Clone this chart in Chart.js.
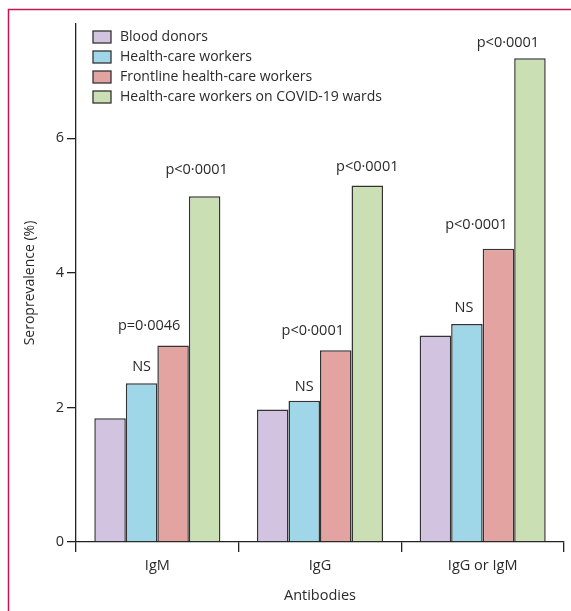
<!DOCTYPE html>
<html><head><meta charset="utf-8">
<script src="https://cdn.jsdelivr.net/npm/chart.js@4/dist/chart.umd.min.js"></script>
<style>html,body{margin:0;padding:0;background:#fff}#wrap{width:571px;height:611px;position:relative}canvas{display:block}</style>
</head><body><div id="wrap"><canvas id="c" width="571" height="611"></canvas></div>
<script>
// ---- data ----
const categories = ['IgM', 'IgG', 'IgG or IgM'];
const seriesNames = ['Blood donors', 'Health-care workers', 'Frontline health-care workers', 'Health-care workers on COVID-19 wards'];
const bloodDonors = [1.84, 1.97, 3.07];
const healthCareWorkers = [2.36, 2.10, 3.24];
const frontlineWorkers = [2.92, 2.85, 4.36];
const covidWardWorkers = [5.14, 5.30, 7.19];
const pBlood = ['', '', ''];
const pHealthCare = ['NS', 'NS', 'NS'];
const pFrontline = ['p=0·0046', 'p<0·0001', 'p<0·0001'];
const pCovid = ['p<0·0001', 'p<0·0001', 'p<0·0001'];
const yTicks = [0, 2, 4, 6];

// ---- styles ----
const FONT = "'Open Sans', sans-serif";
const TXT = '#2a2a2a';
const colors = ['#d2c3e0', '#9fd6e8', '#e3a3a1', '#cae0b4'];
const seriesValues = [bloodDonors, healthCareWorkers, frontlineWorkers, covidWardWorkers];
const seriesLabels = [pBlood, pHealthCare, pFrontline, pCovid];
// label placement tweaks (layout only): [dx, gap above bar]
const labelPlace = [
  [[0,0],[0,0],[0,0]],
  [[0,12],[0,10],[-3,12]],
  [[-24,16],[-23,15],[-22,20]],
  [[-8,22],[0,14],[-22,11]]
];

const framePlugin = {
  id: 'frame',
  beforeDraw(chart) {
    const ctx = chart.ctx;
    ctx.save();
    ctx.strokeStyle = '#c8144f';
    ctx.lineWidth = 1.5;
    ctx.beginPath();
    ctx.moveTo(8.5, 611);
    ctx.lineTo(8.5, 9.5);
    ctx.lineTo(571, 9.5);
    ctx.stroke();
    ctx.restore();
  }
};

const legendPlugin = {
  id: 'customLegend',
  afterDraw(chart) {
    const ctx = chart.ctx;
    ctx.save();
    ctx.font = '14px ' + FONT;
    ctx.textBaseline = 'middle';
    chart.data.datasets.forEach((ds, i) => {
      const cy = 37 + i * 20;
      ctx.fillStyle = ds.backgroundColor;
      ctx.fillRect(93, cy - 6, 18, 12);
      ctx.strokeStyle = '#333';
      ctx.lineWidth = 1.3;
      ctx.strokeRect(93, cy - 6, 18, 12);
      ctx.fillStyle = TXT;
      ctx.fillText(ds.label, 120, cy);
    });
    ctx.restore();
  }
};

const pLabelPlugin = {
  id: 'pLabels',
  afterDatasetsDraw(chart) {
    const ctx = chart.ctx;
    ctx.save();
    ctx.font = '14.5px ' + FONT;
    ctx.fillStyle = TXT;
    ctx.textAlign = 'center';
    ctx.textBaseline = 'alphabetic';
    chart.data.datasets.forEach((ds, i) => {
      const meta = chart.getDatasetMeta(i);
      meta.data.forEach((el, j) => {
        const t = seriesLabels[i][j];
        if (!t) return;
        const [dx, gap] = labelPlace[i][j];
        ctx.fillText(t, el.x + dx, el.y - gap);
      });
    });
    ctx.restore();
  }
};

new Chart(document.getElementById('c'), {
  type: 'bar',
  data: {
    labels: categories,
    datasets: seriesNames.map((n, i) => ({
      label: n,
      data: seriesValues[i],
      backgroundColor: colors[i],
      borderColor: '#333',
      borderWidth: 1.5,
      categoryPercentage: 0.775,
      barPercentage: 1.0
    }))
  },
  options: {
    responsive: false,
    animation: false,
    devicePixelRatio: 1,
    layout: { padding: { left: 8, right: 7, top: 24, bottom: 0 } },
    plugins: { legend: { display: false }, tooltip: { enabled: false } },
    scales: {
      x: {
        grid: { display: true, drawOnChartArea: false, drawTicks: true, tickLength: 10, color: '#222', lineWidth: 1.3, offset: true },
        border: { display: true, color: '#222', width: 1.3 },
        ticks: { color: TXT, font: { family: FONT, size: 14.5 }, padding: 5 },
        title: { display: true, text: 'Antibodies', color: TXT, font: { family: FONT, size: 14.5 }, padding: { top: 0, bottom: 6 } },
        afterFit(s) { s.height = 69; }
      },
      y: {
        min: 0,
        max: 7.7,
        afterBuildTicks(s) { s.ticks = yTicks.map(v => ({ value: v })); },
        grid: { display: true, drawOnChartArea: false, drawTicks: true, tickLength: 9, color: '#222', lineWidth: 1.3 },
        border: { display: true, color: '#222', width: 1.3 },
        ticks: { color: TXT, font: { family: FONT, size: 14.5 }, padding: 3 },
        title: { display: true, text: 'Seroprevalence (%)', color: TXT, font: { family: FONT, size: 14 }, padding: { top: 14, bottom: 0 } },
        afterFit(s) { s.width = 68; }
      }
    }
  },
  plugins: [framePlugin, legendPlugin, pLabelPlugin]
});
</script>
</body></html>
